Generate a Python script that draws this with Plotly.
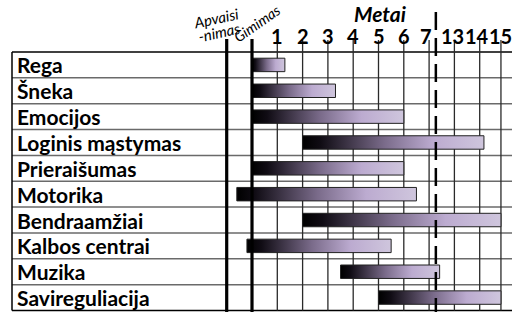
import numpy as np
import plotly.graph_objects as go

# ---------------- data ----------------
categories = ["Rega", "Šneka", "Emocijos", "Loginis mąstymas", "Prieraišumas",
              "Motorika", "Bendraamžiai", "Kalbos centrai", "Muzika", "Savireguliacija"]
start_years = [0, 0, 0, 2, 0, -0.45, 2, -0.15, 3.5, 5]
end_years = [1.3, 3.3, 6, 14.2, 6, 6.5, 15, 5.5, 9.5, 15]
tick_years = [1, 2, 3, 4, 5, 6, 7, 13, 14, 15]
tick_labels = [str(t) for t in tick_years]
conception_year = -0.75
birth_year = 0
break_year = 8.6
axis_title = "Metai"

# ------------- broken (compressed) time scale -------------
knot_years = [conception_year, birth_year] + tick_years
knot_slots = [-1, 0, 1, 2, 3, 4, 5, 6, 7, 8, 9, 9.84]


def to_slot(v):
    return float(np.interp(v, knot_years, knot_slots))


PX0, PXU = 252.0, 25.3        # slot 0 pixel, pixels per slot
ROW_TOP, ROW_H = 52.0, 25.85  # table top pixel, row height
W, H = 522, 314


def px_x(px):
    return (px - PX0) / PXU


def px_y(py):
    return (py - ROW_TOP) / ROW_H - 0.5


table_left = px_x(12)
table_right = px_x(512)
n = len(categories)

font_family = "Lato, 'Noto Sans', sans-serif"
colorscale = [[0, "#000000"], [0.1, "#100c14"], [0.45, "#7a6b8a"],
              [0.72, "#bcabd0"], [1, "#cfc6dd"]]

fig = go.Figure()

half_h = 0.26
for i, (s, e) in enumerate(zip(start_years, end_years)):
    x0, x1 = to_slot(s), to_slot(e)
    fig.add_trace(go.Scatter(
        x=[x0, x1, x1, x0, x0],
        y=[i - half_h, i - half_h, i + half_h, i + half_h, i - half_h],
        mode="lines", fill="toself",
        fillgradient=dict(type="horizontal", colorscale=colorscale),
        line=dict(color="#222222", width=1),
        hoverinfo="skip", showlegend=False,
    ))

shapes = []
for k in range(n + 1):
    edge = k - 0.5
    col = "#000000" if k in (0, n) else "#6a6a6a"
    shapes.append(dict(type="line", xref="x", yref="y", x0=table_left, x1=table_right,
                       y0=edge, y1=edge, line=dict(color=col, width=1.5), layer="below"))
shapes.append(dict(type="line", xref="x", yref="y", x0=table_left, x1=table_left,
                   y0=-0.5, y1=n - 0.5, line=dict(color="#000", width=1.5), layer="below"))
for t in tick_years:
    xs = to_slot(t)
    shapes.append(dict(type="line", xref="x", yref="y", x0=xs, x1=xs,
                       y0=px_y(40), y1=n - 0.5, line=dict(color="#2a2a2a", width=1.3),
                       layer="below"))
for v in (conception_year, birth_year):
    xs = to_slot(v)
    shapes.append(dict(type="line", xref="x", yref="y", x0=xs, x1=xs,
                       y0=px_y(39), y1=px_y(312), line=dict(color="#000", width=3.2),
                       layer="above"))
xb = to_slot(break_year)
shapes.append(dict(type="line", xref="x", yref="y", x0=xb, x1=xb,
                   y0=px_y(12), y1=px_y(312),
                   line=dict(color="#000", width=2.5, dash="18px,8px"), layer="above"))

label_nudge = {"7": -3, "13": -1.5, "14": -3}

annotations = []
for i, c in enumerate(categories):
    annotations.append(dict(x=table_left + 0.1, y=i, xref="x", yref="y", text=c,
                            showarrow=False, xanchor="left", yanchor="middle",
                            font=dict(family=font_family, size=21, color="#000", weight="bold")))
for t, lab in zip(tick_years, tick_labels):
    annotations.append(dict(x=to_slot(t), y=1 - 36 / H, xref="x", yref="paper", text=lab,
                            showarrow=False, xanchor="center", yanchor="middle",
                            xshift=label_nudge.get(lab, 0),
                            font=dict(family=font_family, size=20, color="#000", weight="bold")))
annotations.append(dict(x=px_x(380), y=1 - 14 / H, xref="x", yref="paper", text=axis_title,
                        showarrow=False, xanchor="center", yanchor="middle",
                        font=dict(family=font_family, size=21, color="#000",
                                  weight="bold", style="italic")))
annotations.append(dict(x=px_x(216), y=1 - 18 / H, xref="x", yref="paper", text="Apvaisi",
                        showarrow=False, textangle=-12, xanchor="center", yanchor="middle",
                        font=dict(family=font_family, size=15, color="#000", style="italic")))
annotations.append(dict(x=px_x(219), y=1 - 32 / H, xref="x", yref="paper", text="-nimas",
                        showarrow=False, textangle=-12, xanchor="center", yanchor="middle",
                        font=dict(family=font_family, size=15, color="#000", style="italic")))
annotations.append(dict(x=px_x(257), y=1 - 24 / H, xref="x", yref="paper", text="Gimimas",
                        showarrow=False, textangle=-35, xanchor="center", yanchor="middle",
                        font=dict(family=font_family, size=14.5, color="#000", style="italic")))

fig.update_layout(
    width=W, height=H,
    margin=dict(l=0, r=0, t=0, b=0),
    paper_bgcolor="white", plot_bgcolor="white",
    xaxis=dict(range=[px_x(0), px_x(W)], visible=False, fixedrange=True),
    yaxis=dict(range=[px_y(H), px_y(0)], visible=False, fixedrange=True),
    shapes=shapes, annotations=annotations,
    showlegend=False,
)

fig.write_html("out.html", config={"displayModeBar": False},
               post_script="document.body.style.margin='0';document.body.style.overflow='hidden';")
